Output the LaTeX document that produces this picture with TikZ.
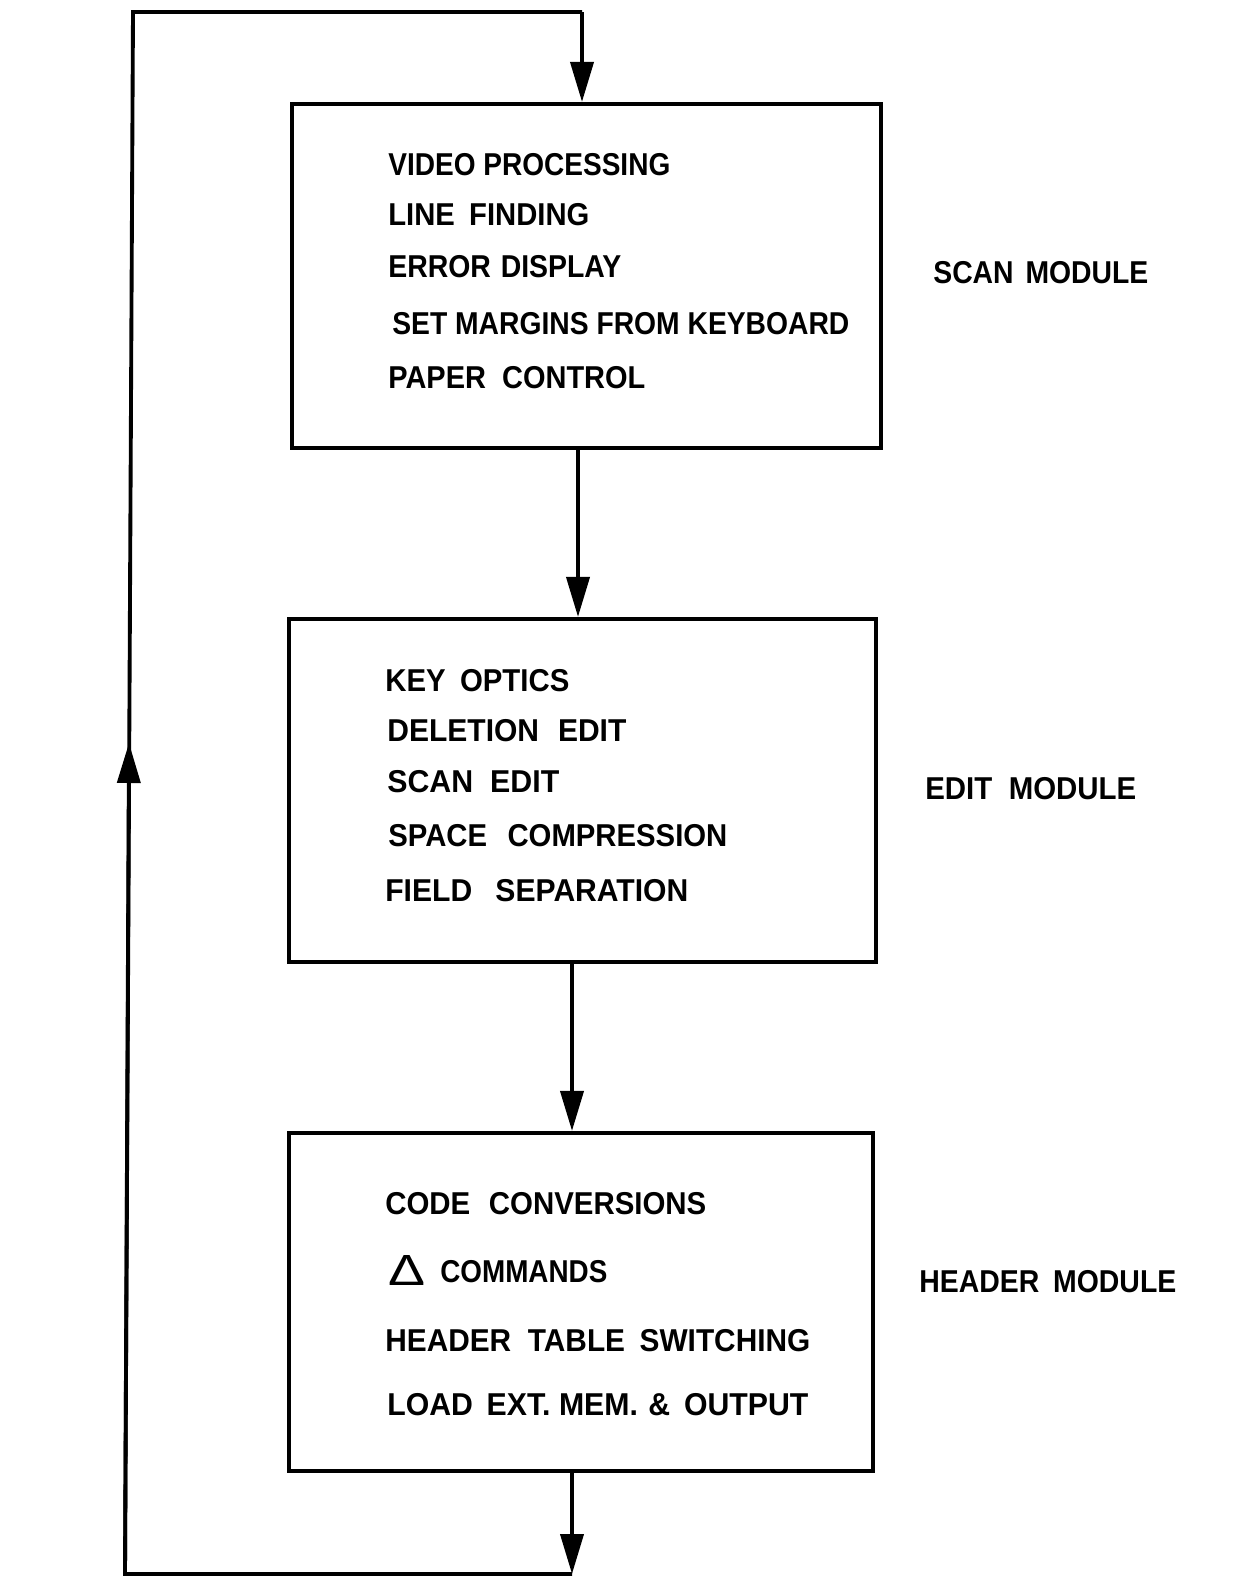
\documentclass[tikz,border=0pt]{standalone}
\usepackage{fontspec}
\usepackage{graphicx}
\setmainfont{Liberation Sans}[FakeStretch=0.9]
\usetikzlibrary{arrows.meta}
\newlength\pxu
\setlength\pxu{0.02cm}
\newcommand\gp[1]{\hspace{#1\pxu}}
\newcommand\fitw[2]{\resizebox{#1\pxu}{\height}{#2}}
\begin{document}
\begin{tikzpicture}[x=0.02cm,y=-0.02cm,
  box/.style={draw, line width=2.4pt, inner sep=0pt},
  lbl/.style={anchor=west, inner sep=0pt, font=\fontsize{18}{20}\selectfont\bfseries},
  conn/.style={line width=2.2pt},
  arr/.style={conn, -{Triangle[length=0.8cm,width=0.46cm]}}]
\useasboundingbox (0,0) rectangle (1241,1579);
% module boxes
\node[box, minimum width=11.78cm, minimum height=6.88cm] (s) at (586.5,276) {};
\node[box, minimum width=11.74cm, minimum height=6.86cm] (e) at (582.5,790.5) {};
\node[box, minimum width=11.68cm, minimum height=6.76cm] (h) at (581,1302) {};
% scan module text
\node[lbl] (s1) at (388,165) {\fitw{282}{VIDEO PROCESSING}};
\node[lbl] (s2) at (388,215) {\fitw{201}{LINE \gp{6}FINDING}};
\node[lbl] (s3) at (388,267) {\fitw{233}{ERROR \gp{2}DISPLAY}};
\node[lbl] (s4) at (392,324) {\fitw{457}{SET MARGINS FROM KEYBOARD}};
\node[lbl] (s5) at (388,378) {\fitw{257}{PAPER \gp{8}CONTROL}};
% edit module text
\node[lbl] (e1) at (385,681) {\fitw{184}{KEY \gp{6}OPTICS}};
\node[lbl] (e2) at (387,731) {\fitw{239}{DELETION \gp{10}EDIT}};
\node[lbl] (e3) at (387,782) {\fitw{172}{SCAN \gp{8}EDIT}};
\node[lbl] (e4) at (388,836) {\fitw{339}{SPACE \gp{12}COMPRESSION}};
\node[lbl] (e5) at (385,891) {\fitw{303}{FIELD \gp{14}SEPARATION}};
% header module text
\node[lbl] (h1) at (385,1204) {\fitw{321}{CODE \gp{10}CONVERSIONS}};
\node[lbl, anchor=base west] (h2) at (388,1282) {\raisebox{-3\pxu}{\resizebox{37\pxu}{30\pxu}{\mdseries Δ}}\gp{15}\fitw{167}{COMMANDS}};
\node[lbl] (h3) at (385,1341) {\fitw{425}{HEADER \gp{8}TABLE \gp{6}SWITCHING}};
\node[lbl] (h4) at (387,1405) {\fitw{421}{LOAD \gp{5}EXT. MEM. \gp{2}\& \gp{5}OUTPUT}};
% side labels
\node[lbl] (ls) at (933,273) {\fitw{215}{SCAN \gp{4}MODULE}};
\node[lbl] (le) at (925,789) {\fitw{211}{EDIT \gp{8}MODULE}};
\node[lbl] (lh) at (919,1282) {\fitw{257}{HEADER \gp{6}MODULE}};
% loop coordinates
\coordinate (tr) at (582,12);
\coordinate (tl) at (133,12);
\coordinate (bl) at (125,1574);
\coordinate (br) at (572,1574);
\coordinate (lm) at (129,743);
% connectors
\draw[arr] (s.south -| 578,0) -- (e.north -| 578,0);
\draw[arr] (e.south -| 572,0) -- (h.north -| 572,0);
\draw[arr] (h.south -| 572,0) -- (br);
\draw[conn, line join=miter] (br) -- (bl) -- (tl) -- (tr);
\draw[arr] (bl) -- (lm);
\draw[arr] (tr) -- (tr |- s.north);
\end{tikzpicture}
\end{document}
